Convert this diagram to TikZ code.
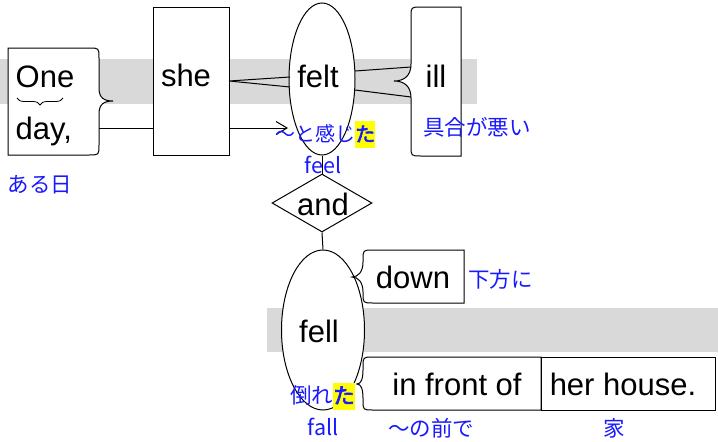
\documentclass[tikz,border=0pt]{standalone}
\usepackage{fontspec}
\setmainfont{Liberation Sans}
\newfontfamily\jp[AutoFakeBold=3]{Noto Sans CJK JP}
\usetikzlibrary{shapes.geometric,arrows.meta,decorations.pathreplacing}
\definecolor{jblue}{RGB}{25,25,255}
\definecolor{bandgray}{RGB}{217,217,217}
\definecolor{hlyellow}{RGB}{255,255,0}
\newcommand\hlchar[1]{{\fboxsep=0pt\colorbox{hlyellow}{\rule[-6pt]{0pt}{27pt}\bfseries #1}}}
\begin{document}
\begin{tikzpicture}[x=1pt,y=-1pt,
  word/.style={font=\fontsize{31}{31}\selectfont, inner sep=0pt, anchor=base},
  gloss/.style={font=\jp\fontsize{21.5}{21.5}\selectfont, text=jblue, inner sep=0pt},
  ln/.style={draw=black, line width=1pt},
  boxw/.style={ln, fill=white}]
\useasboundingbox (0,0) rectangle (718,442);
% grey bands
\fill[bandgray] (0,59) rectangle (477,104);
\fill[bandgray] (267,308) rectangle (718,352);

% One day box with brace
\draw[boxw] (8,48) -- (89,48) .. controls (99,48) .. (99,58) -- (99,88)
  .. controls (99,98) and (104,101) .. (113,101)
  .. controls (104,101) and (99,104) .. (99,114) -- (99,145)
  .. controls (99,155) .. (89,155) -- (8,155) -- cycle;
\coordinate (odlow) at (99,128);
\node[word, anchor=base west] (one) at (15.5,87) {One};
\node[word, anchor=base west] (day) at (15.5,139) {day,};
\draw[ln, line width=0.8pt, decorate, decoration={brace, mirror, amplitude=7pt}] (17,98) -- (63,98);

% she box
\node[boxw, rectangle, minimum width=76, minimum height=148, inner sep=0pt] (sheB) at (191,81) {};
\node[word] (she) at (186,86) {she};
\draw[ln] (odlow) -- (odlow -| sheB.west);

% felt ellipse
\node[boxw, ellipse, minimum width=66, minimum height=152, inner sep=0pt] (feltE) at (322,79) {};
\node[word] (felt) at (318,87) {felt};
\coordinate (sheR) at (229,81);
\coordinate (feltLu) at (290,77);
\coordinate (feltLd) at (290,87);
\draw[ln] (feltLu) -- (sheR) -- (feltLd);
\coordinate (sheLow) at (229,128);
\coordinate (feltArr) at (288,128);
\draw[ln, -{Straight Barb[length=11pt,width=13pt]}] (sheLow) -- (feltArr);

% ill box
\draw[boxw] (461,7) -- (421,7) .. controls (411,7) .. (411,17) -- (411,64)
  .. controls (411,76) and (404,81) .. (394,81)
  .. controls (404,81) and (411,86) .. (411,98) -- (411,146)
  .. controls (411,156) .. (421,156) -- (461,156) -- cycle;
\node[word] (ill) at (436,87) {ill};
\coordinate (feltRu) at (355,71);
\coordinate (feltRd) at (355,90);
\coordinate (illu) at (411,67);
\coordinate (illd) at (411,97);
\draw[ln] (feltRu) -- (illu);
\draw[ln] (feltRd) -- (illd);

% and diamond
\node[ln, diamond, aspect=1.72, minimum width=100, minimum height=58, inner sep=0pt] (andD) at (322,203) {};
\node[word] (and) at (323,215) {and};
\draw[ln] (feltE.south) -- (andD.north);

% fell ellipse
\node[boxw, ellipse, minimum width=83, minimum height=160, inner sep=0pt] (fellE) at (323,330) {};
\node[word] (fell) at (319,342) {fell};
\draw[ln] (andD.south) -- (fellE.north);

% down box
\draw[boxw] (464,250) -- (373,250) .. controls (363,250) .. (363,260) -- (363,262)
  .. controls (363,272) and (358,277) .. (352,277)
  .. controls (358,277) and (363,282) .. (363,292) -- (363,293)
  .. controls (363,303) .. (373,303) -- (464,303) -- cycle;
\node[word] (down) at (413,288) {down};

% in front of / her house
\draw[boxw] (541,357) -- (373,357) .. controls (363,357) .. (363,367) -- (363,370)
  .. controls (363,379) and (361,384) .. (357,384)
  .. controls (361,384) and (363,389) .. (363,398) -- (363,400)
  .. controls (363,410) .. (373,410) -- (541,410) -- cycle;
\draw[boxw] (541,357) rectangle (715,410);
\node[word] (infront) at (457,395) {in front of};
\node[word] (house) at (623,395) {her house.};

% glosses
\node[gloss] (aruhi) at (40,185) {ある日};
\node[gloss, anchor=west, font=\jp\fontsize{20}{20}\selectfont] (kanjita) at (275,134) {～と感じ\hlchar{た}};
\node[gloss] (feel) at (323,165) {feel};
\node[gloss, anchor=west] (guai) at (423,127) {具合が悪い};
\node[gloss, anchor=west] (kaho) at (468,279) {下方に};
\node[gloss, anchor=west] (taoreta) at (290,396) {倒れ\hlchar{た}};
\node[gloss] (fall) at (323,427) {fall};
\node[gloss, anchor=west] (mae) at (388,428) {～の前で};
\node[gloss] (ie) at (614,428) {家};
\end{tikzpicture}
\end{document}
